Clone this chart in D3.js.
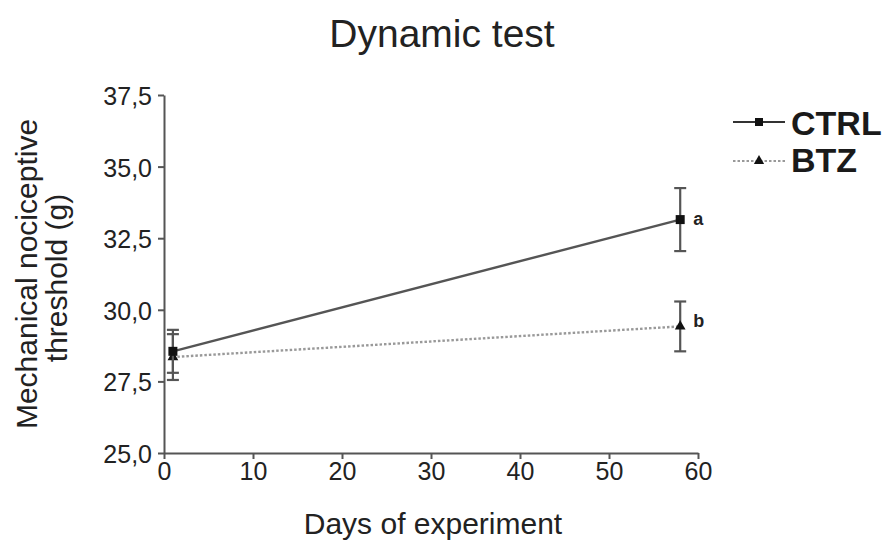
<!DOCTYPE html>
<html><head><meta charset="utf-8">
<script src="https://cdn.jsdelivr.net/npm/d3@7"></script>
<style>body{margin:0;background:#fff}svg{display:block}text{font-family:"Liberation Sans",Arial,sans-serif}</style>
</head><body>
<svg id="c" width="885" height="541"></svg>
<script>
const days = [1, 58];
const ctrlMean = [28.55, 33.15];
const ctrlErr = [0.75, 1.1];
const btzMean = [28.35, 29.42];
const btzErr = [0.8, 0.87];
const xTicks = [0, 10, 20, 30, 40, 50, 60];
const yTicks = [25, 27.5, 30, 32.5, 35, 37.5];
const sigLabels = ["a", "b"];

const svg = d3.select("#c");
const x = d3.scaleLinear().domain([0, 60]).range([164, 698]);
const y = d3.scaleLinear().domain([25, 37.5]).range([453, 95]);
const axisCol = "#555";

// axes
const xa = svg.append("g").attr("transform", `translate(0,${y(25)})`)
  .call(d3.axisBottom(x).tickValues(xTicks).tickSize(6).tickSizeOuter(0).tickFormat(d3.format("d")));
const ya = svg.append("g").attr("transform", `translate(${x(0)},0)`)
  .call(d3.axisLeft(y).tickValues(yTicks).tickSize(6).tickSizeOuter(0).tickFormat(d => d.toFixed(1).replace(".", ",")));
[xa, ya].forEach(a => {
  a.select(".domain").attr("stroke", axisCol).attr("stroke-width", 2);
  a.selectAll(".tick line").attr("stroke", axisCol).attr("stroke-width", 2);
  a.selectAll(".tick text").attr("fill", "#222").style("font-size", "25px");
});
ya.selectAll(".tick text").attr("dx", "-3px").attr("dy", "0.38em");

// series
function series(mean, err, opts) {
  const pts = days.map((d, i) => ({ d, m: mean[i], e: err[i] }));
  const line = d3.line().x(p => x(p.d)).y(p => y(p.m));
  svg.append("path").datum(pts).attr("d", line).attr("fill", "none")
    .attr("stroke", opts.color).attr("stroke-width", opts.width)
    .attr("stroke-dasharray", opts.dash || null);
  const g = svg.append("g");
  pts.forEach(p => {
    g.append("line").attr("x1", x(p.d)).attr("x2", x(p.d)).attr("y1", y(p.m - p.e)).attr("y2", y(p.m + p.e))
      .attr("stroke", "#555").attr("stroke-width", 2.2);
    [p.m - p.e, p.m + p.e].forEach(v => g.append("line").attr("x1", x(p.d) - 6).attr("x2", x(p.d) + 6)
      .attr("y1", y(v)).attr("y2", y(v)).attr("stroke", "#555").attr("stroke-width", 2.2));
    g.append("path").attr("transform", `translate(${x(p.d)},${y(p.m)})`)
      .attr("d", d3.symbol().type(opts.sym).size(opts.symSize)()).attr("fill", "#111");
  });
}
series(btzMean, btzErr, { color: "#999", width: 2.4, dash: "2.5,2", sym: d3.symbolTriangle, symSize: 50 });
series(ctrlMean, ctrlErr, { color: "#555", width: 2.4, sym: d3.symbolSquare, symSize: 81 });

// significance letters
[[ctrlMean[1], sigLabels[0], 5], [btzMean[1], sigLabels[1], 1]].forEach(([v, t, off]) =>
  svg.append("text").attr("x", x(58) + 13).attr("y", y(v) + off).text(t)
    .style("font-size", "18px").style("font-weight", "bold").attr("fill", "#222"));

// title and labels
svg.append("text").attr("x", 442).attr("y", 47).attr("text-anchor", "middle")
  .style("font-size", "39px").attr("fill", "#222").text("Dynamic test");
svg.append("text").attr("x", 433).attr("y", 534).attr("text-anchor", "middle")
  .style("font-size", "30px").attr("fill", "#222").text("Days of experiment");
const yl = svg.append("text").attr("transform", "translate(0,274) rotate(-90)").attr("text-anchor", "middle")
  .style("font-size", "30px").attr("fill", "#222");
yl.append("tspan").attr("x", 0).attr("y", 37).text("Mechanical nociceptive");
yl.append("tspan").attr("x", -4).attr("y", 67).text("threshold (g)");

// legend
const leg = [
  { name: "CTRL", color: "#333", dash: null, sym: d3.symbolSquare, size: 64, yy: 122, ty: 135 },
  { name: "BTZ", color: "#999", dash: "2.5,2", sym: d3.symbolTriangle, size: 45, yy: 161, ty: 172 }
];
leg.forEach(l => {
  svg.append("line").attr("x1", 733).attr("x2", 785).attr("y1", l.yy).attr("y2", l.yy)
    .attr("stroke", l.color).attr("stroke-width", 2.2).attr("stroke-dasharray", l.dash);
  svg.append("path").attr("transform", `translate(759,${l.yy})`).attr("d", d3.symbol().type(l.sym).size(l.size)()).attr("fill", "#111");
  svg.append("text").attr("x", 791).attr("y", l.ty).text(l.name)
    .style("font-size", "34px").style("font-weight", "bold").attr("fill", "#1a1a1a");
});
</script>
</body></html>
